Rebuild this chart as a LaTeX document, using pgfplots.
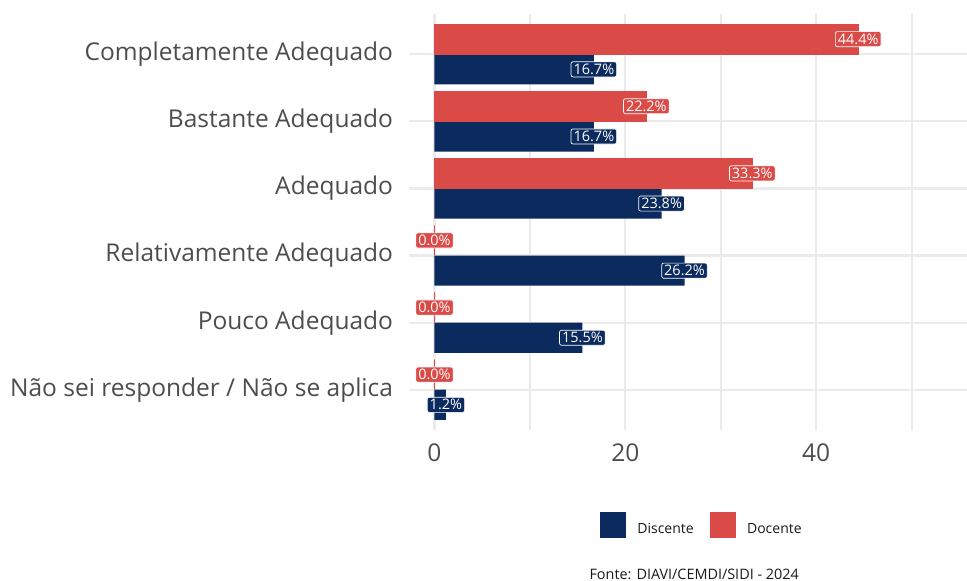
\documentclass[border=0pt]{standalone}
\usepackage{fontspec}
\setmainfont{Open Sans}
\usepackage{pgfplots}
\pgfplotsset{compat=1.18}
\definecolor{navy}{HTML}{0B2A5E}
\definecolor{redd}{HTML}{DA4B47}
\definecolor{gridc}{HTML}{EBEBEB}
\definecolor{txt}{HTML}{4D4D4D}
\begin{document}
\begin{tikzpicture}
\path[use as bounding box] (0pt,0pt) rectangle (967pt,-581pt);
\begin{axis}[
 at={(408.7pt,-430pt)}, anchor=south west,
 scale only axis, width=558.3pt, height=416pt,
 xmin=-2.7, xmax=55.8, ymin=0.4, ymax=6.6,
 axis line style={draw=none},
 major tick length=0pt, minor tick length=0pt,
 xtick={0,20,40}, minor xtick={10,30,50},
 ytick={1,2,3,4,5,6},
 yticklabels={Não sei responder / Não se aplica, Pouco Adequado, Relativamente Adequado, Adequado, Bastante Adequado, Completamente Adequado},
 xmajorgrids, xminorgrids, ymajorgrids,
 major grid style={gridc, line width=2.2pt},
 minor grid style={gridc, line width=1.8pt},
 tick label style={font=\fontsize{24.5}{24.5}\selectfont, text=txt, inner sep=0pt},
 yticklabel style={xshift=-15.5pt},
 xticklabel style={yshift=-14pt},
 /pgf/number format/assume math mode=true,
 xbar, bar width=0.45,
 nodes near coords={\pgfmathprintnumber[fixed,fixed zerofill,precision=1]{\pgfplotspointmeta}\%},
 every node near coord/.append style={anchor=center, text=white, draw=white, line width=0.7pt, rounded corners=2pt, font=\fontsize{14.5}{14.5}\selectfont, inner xsep=2.5pt, inner ysep=2.2pt},
 legend style={at={(axis description cs:0.525,-0.228)}, anchor=center, draw=none, fill=none, font=\fontsize{14}{14}\selectfont, text=black!90, /tikz/every even column/.append style={column sep=14pt}},
 legend columns=2,
 clip=false,
]
\addlegendimage{legend image code/.code={\fill[navy] (0pt,-8pt) rectangle (25pt,17pt); \path (35pt,0pt);}}
\addlegendentry{Discente}
\addlegendimage{legend image code/.code={\fill[redd] (0pt,-8pt) rectangle (25pt,17pt); \path (35pt,0pt);}}
\addlegendentry{Docente}
\addplot[forget plot, fill=navy, draw=none, bar shift=-0.225, every node near coord/.append style={fill=navy}] coordinates {(1.2,1) (15.5,2) (26.2,3) (23.8,4) (16.7,5) (16.7,6)};
\addplot[forget plot, fill=redd, draw=redd, line width=0.4pt, bar shift=0.225, every node near coord/.append style={fill=redd}] coordinates {(0,1) (0,2) (0,3) (33.3,4) (22.2,5) (44.4,6)};
\end{axis}
\node[anchor=east, font=\fontsize{14.4}{14.4}\selectfont, text=black!90, inner sep=0pt] at (799pt,-574pt) {Fonte: DIAVI/CEMDI/SIDI - 2024};
\end{tikzpicture}
\end{document}
